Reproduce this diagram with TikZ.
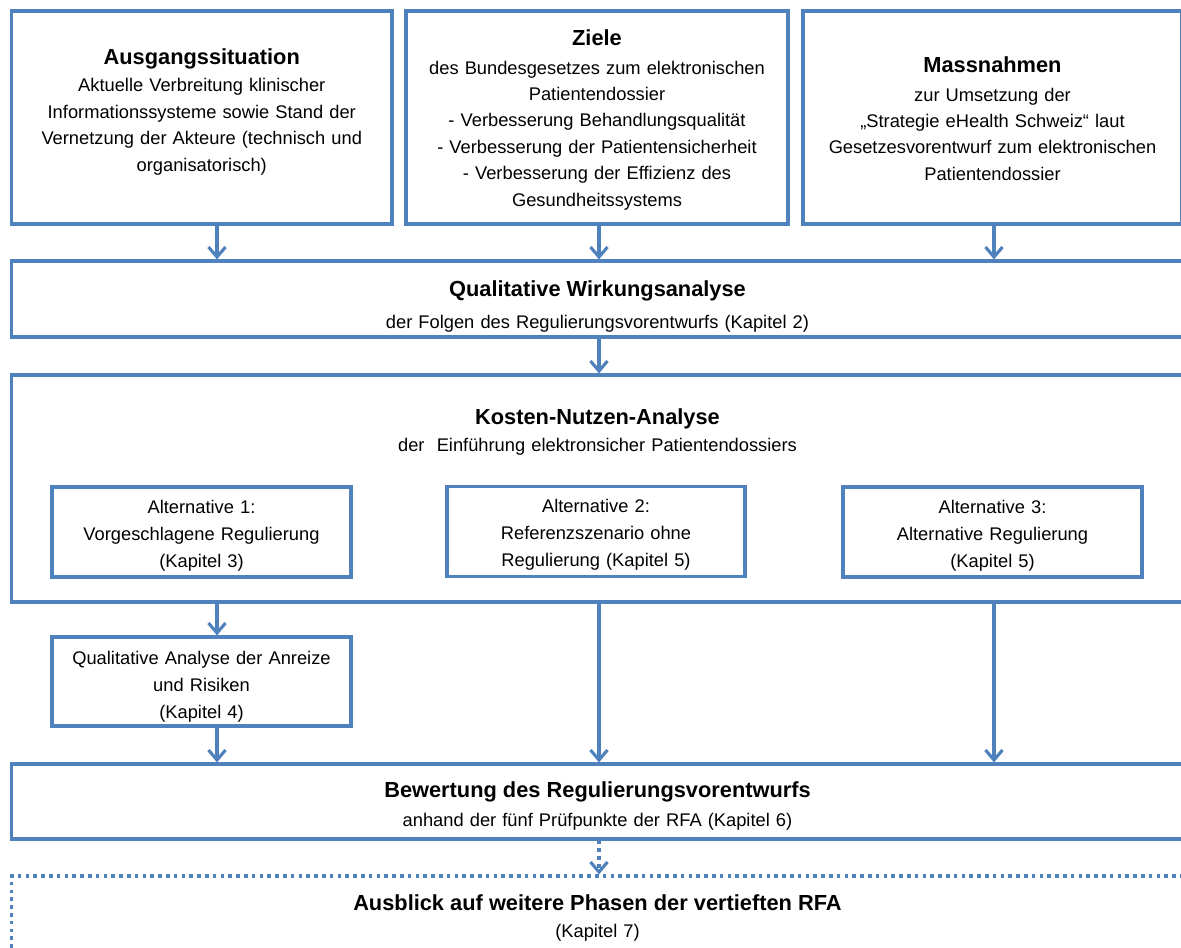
\documentclass[tikz,border=0pt]{standalone}
\usepackage{fontspec}
\setmainfont{Liberation Sans}
\usetikzlibrary{arrows.meta}
\definecolor{lineblue}{RGB}{79,129,189}
\begin{document}
\begin{tikzpicture}[x=1pt,y=-1pt,
  box/.style={draw=lineblue, line width=3.2pt, rectangle, inner sep=0pt},
  dotbox/.style={box, dash pattern=on 3.5pt off 4.3pt},
  txt/.style={anchor=base, align=center, inner sep=0pt, text width=#1,
    font=\fontsize{18.3}{26.4}\selectfont},
  txt/.default=370pt,
  alttxt/.style={txt=292pt, font=\fontsize{18.3}{27}\selectfont},
  arr/.style={draw=lineblue, line width=3.1pt, -{Straight Barb[length=10pt,width=17pt,line width=3.1pt]}},
  dotarr/.style={arr, dash pattern=on 3.5pt off 4.3pt}
]
\newcommand{\hdf}[1]{{\fontsize{21.8}{26.4}\selectfont\bfseries #1}}
\fill[white] (0,0) rectangle (1181,948);
\useasboundingbox (0,0) rectangle (1181,948);
\clip (0,0) rectangle (1181,948);

% boxes
\node[box, minimum width=380.5pt, minimum height=213pt] (b1) at (201.75,117.5) {};
\node[box, minimum width=382pt, minimum height=213pt] (b2) at (597,117.5) {};
\node[box, minimum width=379pt, minimum height=213pt] (b3) at (992.5,117.5) {};
\node[box, minimum width=1172.5pt, minimum height=76pt] (qwa) at (597.75,299) {};
\node[box, minimum width=1172.5pt, minimum height=227pt] (kna) at (597.75,488.5) {};
\node[box, minimum width=299pt, minimum height=90pt] (a1) at (201.5,532) {};
\node[box, minimum width=298pt, minimum height=90pt] (a2) at (596,531.5) {};
\node[box, minimum width=299pt, minimum height=90pt] (a3) at (992.5,532) {};
\node[box, minimum width=299pt, minimum height=89pt] (qa) at (201.5,681.5) {};
\node[box, minimum width=1172.5pt, minimum height=75pt] (bew) at (597.75,801.5) {};
\node[dotbox, minimum width=1172.5pt, minimum height=114pt] (aus) at (597.75,933) {};

% texts
\node[txt] (t1) at (201.75,64) {\hdf{Ausgangssituation}\\[1.5pt]
  Aktuelle Verbreitung klinischer\\
  Informationssysteme sowie Stand der\\
  Vernetzung der Akteure (technisch und\\
  organisatorisch)};
\node[txt] (t2) at (597,45.7) {\hdf{Ziele}\\[1.9pt]
  des Bundesgesetzes zum elektronischen\\
  Patientendossier\\
  - Verbesserung Behandlungsqualität\\
  - Verbesserung der Patientensicherheit\\
  - Verbesserung der Effizienz des\\
  Gesundheitssystems};
\node[txt] (t3) at (992.5,72.3) {\hdf{Massnahmen}\\[2.3pt]
  zur Umsetzung der\\
  „Strategie eHealth Schweiz“ laut\\
  Gesetzesvorentwurf zum elektronischen\\
  Patientendossier};
\node[txt=1000pt] (tqwa) at (597.5,296) {\hdf{Qualitative Wirkungsanalyse}\\[5.6pt]
  der Folgen des Regulierungsvorentwurfs (Kapitel 2)};
\node[txt=1000pt] (tkna) at (597.5,424) {\hdf{Kosten-Nutzen-Analyse}\\[1pt]
  der~ Einführung elektronsicher Patientendossiers};
\node[alttxt] (ta1) at (201.5,513.5) {Alternative 1:\\ Vorgeschlagene Regulierung\\ (Kapitel 3)};
\node[alttxt] (ta2) at (596,512.5) {Alternative 2:\\ Referenzszenario ohne\\ Regulierung (Kapitel 5)};
\node[alttxt] (ta3) at (992.5,513) {Alternative 3:\\ Alternative Regulierung\\ (Kapitel 5)};
\node[alttxt] (tqa) at (201.5,664) {Qualitative Analyse der Anreize\\ und Risiken\\ (Kapitel 4)};
\node[txt=1000pt] (tbew) at (597.5,797.3) {\hdf{Bewertung des Regulierungsvorentwurfs}\\[2.3pt]
  anhand der fünf Prüfpunkte der RFA (Kapitel 6)};
\node[txt=1000pt] (taus) at (597.5,910) {\hdf{Ausblick auf weitere Phasen der vertieften RFA}\\[0.9pt]
  (Kapitel 7)};

% connectors
\coordinate (xL) at (217,0);
\coordinate (xM) at (599,0);
\coordinate (xR) at (994,0);
\draw[arr] (b1.south -| xL) -- (qwa.north -| xL);
\draw[arr] (b2.south -| xM) -- (qwa.north -| xM);
\draw[arr] (b3.south -| xR) -- (qwa.north -| xR);
\draw[arr] (qwa.south -| xM) -- (kna.north -| xM);
\draw[arr] (kna.south -| xL) -- (qa.north -| xL);
\draw[arr] (qa.south -| xL) -- (bew.north -| xL);
\draw[arr] (kna.south -| xM) -- (bew.north -| xM);
\draw[arr] (kna.south -| xR) -- (bew.north -| xR);
\draw[dotarr] (bew.south -| xM) -- (aus.north -| xM);
\end{tikzpicture}
\end{document}
